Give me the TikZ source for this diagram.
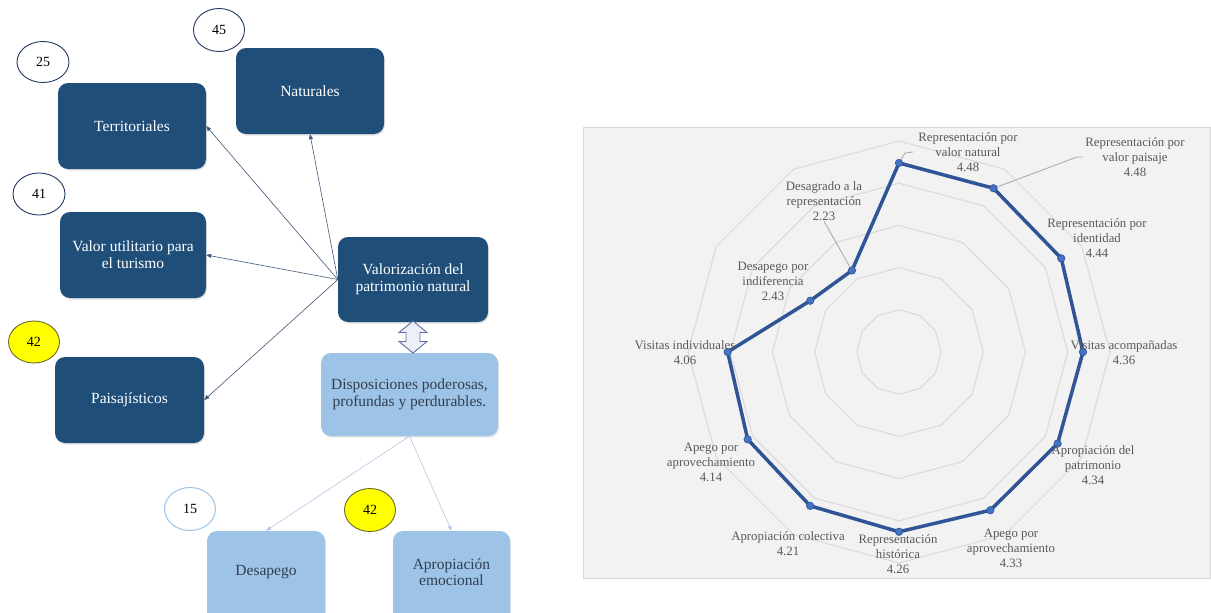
\documentclass[tikz,border=0pt]{standalone}
\usepackage{fontspec}
\setmainfont{Liberation Serif}
\usetikzlibrary{shapes.geometric,arrows.meta,shadows}
\definecolor{boxdark}{HTML}{1F4E79}
\definecolor{boxlight}{HTML}{9DC3E6}
\definecolor{lighttext}{HTML}{333F50}
\definecolor{ringc}{HTML}{D9D9D9}
\definecolor{chartbg}{HTML}{F2F2F2}
\definecolor{radarc}{HTML}{2F5597}
\definecolor{markc}{HTML}{4472C4}
\definecolor{labc}{HTML}{595959}
\definecolor{arrc}{HTML}{3E5878}
\definecolor{larrc}{HTML}{B4C7E7}
\definecolor{ovalc}{HTML}{203864}
\definecolor{yellowc}{HTML}{FFFF00}
\definecolor{yedge}{HTML}{6B6B2A}
\definecolor{dblfill}{HTML}{EDF1F7}
\definecolor{dbledge}{HTML}{5B6FA0}
\definecolor{leadc}{HTML}{A6A6A6}
\begin{document}
\begin{tikzpicture}[x=1pt,y=-1pt,
  boxshadow/.style={drop shadow={opacity=0.22, shadow xshift=1pt, shadow yshift=-1.5pt}},
  darkbox/.style={rectangle, rounded corners=10pt, fill=boxdark, text=white, align=center,
    inner sep=0pt, font=\fontsize{15.5}{17}\selectfont, boxshadow},
  lightbox/.style={rectangle, rounded corners=10pt, fill=boxlight, text=lighttext, align=center,
    inner sep=0pt, font=\fontsize{15.5}{16.5}\selectfont, boxshadow},
  lighttxt/.style={text=lighttext, align=center, inner sep=0pt, font=\fontsize{15.5}{16.5}\selectfont},
  oval/.style={ellipse, draw=ovalc, line width=0.9pt, fill=white, inner sep=0pt,
    minimum width=51pt, minimum height=42pt, font=\fontsize{14}{16}\selectfont},
  yoval/.style={oval, fill=yellowc, draw=yedge},
  boval/.style={oval, draw=boxlight, line width=1pt},
  conn/.style={draw=arrc, line width=0.6pt, -{Triangle[length=5pt,width=4pt]}},
  lconn/.style={draw=larrc, line width=0.6pt, -{Triangle[length=5pt,width=4pt]}},
  ring/.style={draw=ringc, line width=1pt},
  radarline/.style={draw=radarc, line width=3.5pt, line join=round},
  dot/.style={circle, fill=markc, draw=radarc, line width=0.6pt, inner sep=0pt, minimum size=7.5pt},
  lab/.style={text=labc, align=center, inner sep=0pt, font=\fontsize{12.8}{15}\selectfont},
  leader/.style={draw=leadc, line width=0.8pt}
]
\useasboundingbox (0,0) rectangle (1211,613);
\clip (0,0) rectangle (1211,613);
\fill[white] (0,0) rectangle (1211,613);

% ---------- left diagram ----------
\node[darkbox, minimum width=148pt, minimum height=86pt] (nat) at (310,91) {Naturales};
\node[darkbox, minimum width=148pt, minimum height=86pt] (terr) at (132,126) {Territoriales};
\node[darkbox, minimum width=146pt, minimum height=86pt] (valu) at (133,255) {Valor utilitario para\\el turismo};
\node[darkbox, minimum width=150pt, minimum height=85pt] (valo) at (413,279.5) {Valorización del\\patrimonio natural};
\node[darkbox, minimum width=149pt, minimum height=86pt] (pais) at (129.5,400) {Paisajísticos};
\node[lightbox, minimum width=177pt, minimum height=83pt] (disp) at (409.5,394.5) {Disposiciones poderosas,\\profundas y perdurables.};
\node[lightbox, minimum width=118pt, minimum height=92pt] (desa) at (266,577) {};
\node[lighttxt] (desat) at (266,572) {Desapego};
\node[lightbox, minimum width=117pt, minimum height=92pt] (apro) at (451.5,577) {};
\node[lighttxt] (aprot) at (451.5,572) {Apropiación\\emocional};

\node[oval, minimum width=51pt, minimum height=43pt] (c45) at (219,30) {45};
\node[oval, minimum width=52pt, minimum height=41pt] (c25) at (43,62) {25};
\node[oval, minimum width=52pt, minimum height=42pt] (c41) at (39,194) {41};
\node[yoval] (c42a) at (34,342) {42};
\node[boval, minimum height=43pt] (c15) at (190,509) {15};
\node[yoval, minimum height=43pt] (c42b) at (370,510) {42};

\draw[conn] (valo.west) -- (terr.east);
\draw[conn] (valo.west) -- (nat.south);
\draw[conn] (valo.west) -- (valu.east);
\draw[conn] (valo.west) -- (pais.east);
\draw[lconn] (disp.south) -- (desa.north);
\draw[lconn] (disp.south) -- (apro.north);

% double arrow between the two boxes
\draw[fill=dblfill, draw=dbledge, line width=0.9pt, line join=miter]
  (413,321) -- (427,332.5) -- (420,332.5) -- (420,341.5) -- (427,341.5) -- (413,353)
  -- (399,341.5) -- (406,341.5) -- (406,332.5) -- (399,332.5) -- cycle;

% ---------- radar chart ----------
\draw[fill=chartbg, draw=ringc, line width=0.8pt] (583,127) rectangle (1210,578);
\begin{scope}[shift={(899,352)}, y=1pt]
  \foreach \k [evaluate=\k as \rr using \k*42.2] in {1,...,5}
    \draw[ring] (90:\rr) \foreach \a in {60,30,...,-240} { -- (\a:\rr) } -- cycle;
  \foreach \v [count=\i from 0] in {4.48,4.48,4.44,4.36,4.34,4.33,4.26,4.21,4.14,4.06,2.43,2.23} {
    \pgfmathsetmacro\rv{\v*42.2}
    \pgfmathsetmacro\av{90-30*\i}
    \coordinate (p\i) at (\av:\rv);
  }
\end{scope}
\draw[radarline] (p0) \foreach \i in {1,...,11} { -- (p\i) } -- cycle;
\foreach \i in {0,...,11} \node[dot] (m\i) at (p\i) {};

\node[lab] (L0) at (968,152.5) {Representación por\\valor natural\\4.48};
\node[lab] (L1) at (1135,157.5) {Representación por\\valor paisaje\\4.48};
\node[lab] (L2) at (1097,238.5) {Representación por\\identidad\\4.44};
\node[lab] (L3) at (1124,353) {Visitas acompañadas\\4.36};
\node[lab] (L4) at (1093,465) {Apropiación del\\patrimonio\\4.34};
\node[lab] (L5) at (1011,548) {Apego por\\aprovechamiento\\4.33};
\node[lab] (L6) at (898,554) {Representación\\histórica\\4.26};
\node[lab] (L7) at (788,543.5) {Apropiación colectiva\\4.21};
\node[lab] (L8) at (711,462) {Apego por\\aprovechamiento\\4.14};
\node[lab] (L9) at (685,352.5) {Visitas individuales\\4.06};
\node[lab] (L10) at (773,281.5) {Desapego por\\indiferencia\\2.43};
\node[lab] (L11) at (824,201.5) {Desagrado a la\\representación\\2.23};

\coordinate (k0a) at (905,153);
\coordinate (k0b) at (913,152);
\draw[leader] (m0) -- (k0a) -- (k0b);
\coordinate (k1a) at (1077,157);
\coordinate (k1b) at (1083,157);
\draw[leader] (m1) -- (k1a) -- (k1b);
\draw[leader] (L11.south) -- (m11);
\end{tikzpicture}
\end{document}
